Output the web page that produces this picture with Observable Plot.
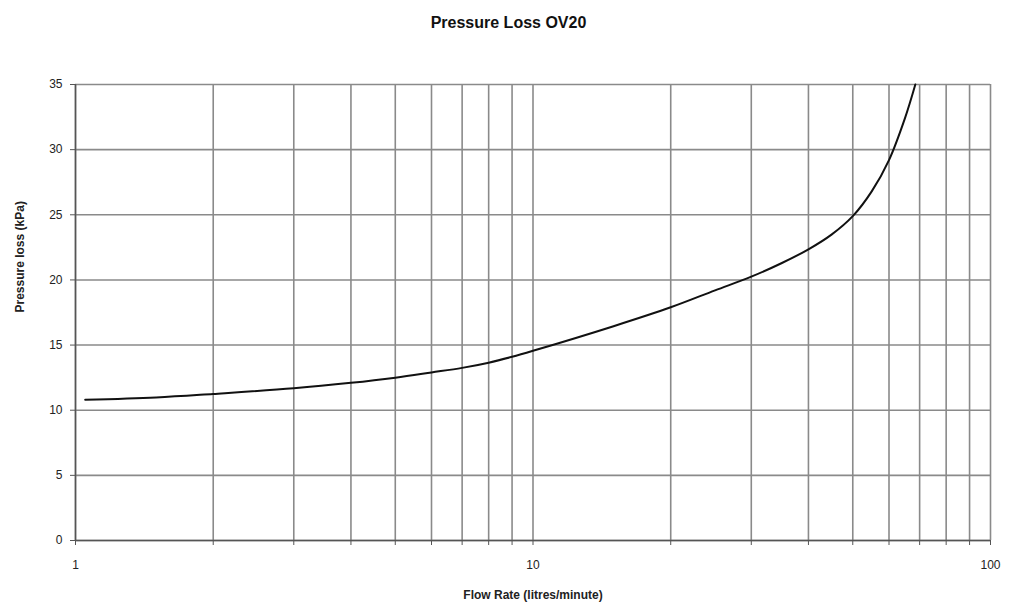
<!DOCTYPE html>
<html>
<head>
<meta charset="utf-8">
<script src="https://cdn.jsdelivr.net/npm/d3@7"></script>
<script src="https://cdn.jsdelivr.net/npm/@observablehq/plot@0.6"></script>
<style>
  body { margin: 0; background: #fff; font-family: "Liberation Sans", Arial, sans-serif; }
  #title { height: 45px; line-height: 46px; text-align: center; font-weight: bold; font-size: 16px; color: #111; padding-left: 8px; }
</style>
</head>
<body>
<div id="title">Pressure Loss OV20</div>
<div id="chart"></div>
<script>
const flow = [1.05, 1.5, 2, 3, 4, 5, 6, 7, 8, 9, 10, 15, 20, 25, 30, 35, 40, 45, 50, 55, 60, 65, 68.5];
const pressure = [10.8, 10.98, 11.25, 11.68, 12.1, 12.5, 12.9, 13.25, 13.65, 14.1, 14.56, 16.45, 17.9, 19.2, 20.25, 21.3, 22.35, 23.5, 24.9, 26.8, 29.2, 32.4, 35];
const xGrid = [1, 2, 3, 4, 5, 6, 7, 8, 9, 10, 20, 30, 40, 50, 60, 70, 80, 90, 100];
const xLabels = [1, 10, 100];
const yTicks = [0, 5, 10, 15, 20, 25, 30, 35];

const data = flow.map((f, i) => ({flow: f, pressure: pressure[i]}));

const chart = Plot.plot({
  width: 1009,
  height: 560,
  marginLeft: 75,
  marginRight: 19,
  marginTop: 39,
  marginBottom: 65,
  style: {fontFamily: "'Liberation Sans', Arial, sans-serif", fontSize: "12px", color: "#222"},
  x: {type: "log", domain: [1, 100]},
  y: {domain: [0, 35]},
  marks: [
    Plot.ruleX(xGrid, {stroke: "#8a8a8a", strokeWidth: 1.6}),
    Plot.ruleY(yTicks, {stroke: "#8a8a8a", strokeWidth: 1.6}),
    Plot.ruleX([1], {stroke: "#555", strokeWidth: 1.5}),
    Plot.ruleY([0], {stroke: "#555", strokeWidth: 1.5}),
    Plot.axisX(xGrid, {tickSize: 5, tickFormat: () => "", stroke: "#555", label: null}),
    Plot.axisX(xLabels, {tickSize: 0, tickPadding: 20, tickFormat: d => String(d), fontSize: 12, label: null}),
    Plot.axisY(yTicks, {tickSize: 5, tickPadding: 8, stroke: "#555", fontSize: 12, label: null}),
    Plot.text(["Flow Rate (litres/minute)"], {frameAnchor: "bottom", dy: 58, fontWeight: "bold", fontSize: 12}),
    Plot.text(["Pressure loss (kPa)"], {frameAnchor: "left", dx: -55, rotate: -90, fontWeight: "bold", fontSize: 12}),
    Plot.line(data, {x: "flow", y: "pressure", curve: "catmull-rom", stroke: "#111", strokeWidth: 2})
  ]
});
document.getElementById("chart").appendChild(chart);
</script>
</body>
</html>
